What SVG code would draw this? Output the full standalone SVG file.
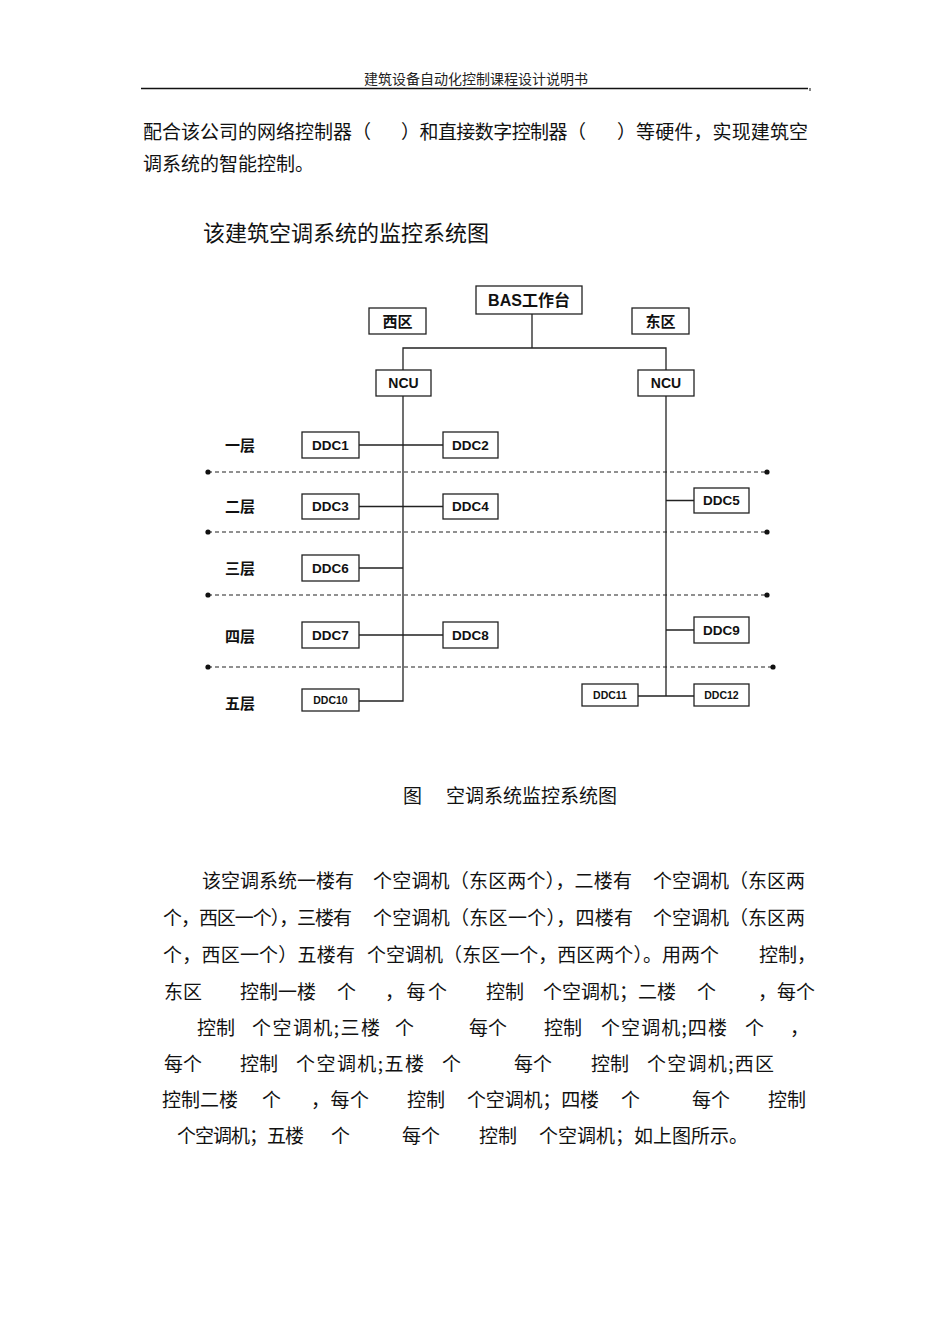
<svg xmlns="http://www.w3.org/2000/svg" width="950" height="1344" viewBox="0 0 950 1344">
<style>
.t{font-family:"Noto Sans CJK SC","Liberation Serif",sans-serif;font-size:19px;fill:#111;dominant-baseline:central}
.hd{font-family:"Noto Sans CJK SC",sans-serif;font-size:14px;fill:#222;dominant-baseline:central}
.ttl{font-family:"Noto Sans CJK SC",sans-serif;font-size:22px;fill:#111;dominant-baseline:central}
.box{fill:#fff;stroke:#222;stroke-width:1.3}
.lb{font-family:"Liberation Sans","Noto Sans CJK SC",sans-serif;font-weight:bold;fill:#111;text-anchor:middle;dominant-baseline:central}
.ln{fill:none;stroke:#222;stroke-width:1.3}
.dash{fill:none;stroke:#222;stroke-width:1.1;stroke-dasharray:4 3}
.dot{fill:#111}
</style>

<!-- page header -->
<text class="hd" x="476" y="78" text-anchor="middle">建筑设备自动化控制课程设计说明书</text>
<line x1="141" y1="88.5" x2="808" y2="88.5" stroke="#111" stroke-width="1.6"/>
<line x1="810" y1="88" x2="810" y2="91" stroke="#111" stroke-width="1"/>

<!-- intro paragraph -->
<text class="t" x="143" y="130">配合该公司的网络控制器（</text>
<text class="t" x="401" y="130" textLength="185" lengthAdjust="spacing">）和直接数字控制器（</text>
<text class="t" x="617" y="130" textLength="191" lengthAdjust="spacing">）等硬件，实现建筑空</text>
<text class="t" x="143" y="162">调系统的智能控制。</text>

<text class="ttl" x="203" y="231">该建筑空调系统的监控系统图</text>

<!-- connectors -->
<g id="connectors">
  <path class="ln" d="M532 314V348M403 370V348H666V370"/>
  <path class="ln" d="M403 396V701H359"/>
  <path class="ln" d="M359 445H443M359 506.5H443M359 568H403M359 635H443"/>
  <path class="ln" d="M666 396V696M666 500.5H694M666 630H694M638 696H694"/>
  <g id="floor-dividers">
    <line class="dash" x1="208" y1="472" x2="767" y2="472"/>
    <line class="dash" x1="208" y1="532" x2="767" y2="532"/>
    <line class="dash" x1="208" y1="595" x2="767" y2="595"/>
    <line class="dash" x1="208" y1="667" x2="773" y2="667"/>
    <circle class="dot" cx="208" cy="472" r="2.6"/><circle class="dot" cx="767" cy="472" r="2.6"/>
    <circle class="dot" cx="208" cy="532" r="2.6"/><circle class="dot" cx="767" cy="532" r="2.6"/>
    <circle class="dot" cx="208" cy="595" r="2.6"/><circle class="dot" cx="767" cy="595" r="2.6"/>
    <circle class="dot" cx="208" cy="667" r="2.6"/><circle class="dot" cx="773" cy="667" r="2.6"/>
  </g>
</g>

<!-- nodes -->
<g id="bas"><rect class="box" x="476" y="286" width="106" height="28"/><text class="lb" x="529" y="300" font-size="16">BAS工作台</text></g>
<g id="west-zone"><rect class="box" x="369" y="308" width="57" height="26"/><text class="lb" x="397.5" y="321" font-size="15">西区</text></g>
<g id="east-zone"><rect class="box" x="632" y="308" width="57" height="26"/><text class="lb" x="660.5" y="321" font-size="15">东区</text></g>
<g id="ncu-west"><rect class="box" x="376" y="370" width="55" height="26"/><text class="lb" x="403.5" y="383" font-size="14">NCU</text></g>
<g id="ncu-east"><rect class="box" x="638" y="370" width="56" height="26"/><text class="lb" x="666" y="383" font-size="14">NCU</text></g>

<g id="ddc1"><rect class="box" x="302" y="432" width="57" height="26"/><text class="lb" x="330.5" y="445" font-size="13.5">DDC1</text></g>
<g id="ddc2"><rect class="box" x="443" y="432" width="55" height="26"/><text class="lb" x="470.5" y="445" font-size="13.5">DDC2</text></g>
<g id="ddc3"><rect class="box" x="302" y="494" width="57" height="25"/><text class="lb" x="330.5" y="506.5" font-size="13.5">DDC3</text></g>
<g id="ddc4"><rect class="box" x="443" y="494" width="55" height="25"/><text class="lb" x="470.5" y="506.5" font-size="13.5">DDC4</text></g>
<g id="ddc5"><rect class="box" x="694" y="488" width="55" height="25"/><text class="lb" x="721.5" y="500.5" font-size="13.5">DDC5</text></g>
<g id="ddc6"><rect class="box" x="302" y="555" width="57" height="26"/><text class="lb" x="330.5" y="568" font-size="13.5">DDC6</text></g>
<g id="ddc7"><rect class="box" x="302" y="622" width="57" height="26"/><text class="lb" x="330.5" y="635" font-size="13.5">DDC7</text></g>
<g id="ddc8"><rect class="box" x="443" y="622" width="55" height="26"/><text class="lb" x="470.5" y="635" font-size="13.5">DDC8</text></g>
<g id="ddc9"><rect class="box" x="694" y="617" width="55" height="26"/><text class="lb" x="721.5" y="630" font-size="13.5">DDC9</text></g>
<g id="ddc10"><rect class="box" x="302" y="689" width="57" height="22"/><text class="lb" x="330.5" y="700" font-size="10.5">DDC10</text></g>
<g id="ddc11"><rect class="box" x="582" y="684" width="56" height="22"/><text class="lb" x="610" y="695" font-size="10.5">DDC11</text></g>
<g id="ddc12"><rect class="box" x="694" y="684" width="55" height="22"/><text class="lb" x="721.5" y="695" font-size="10.5">DDC12</text></g>

<g id="floors">
  <text class="lb" x="240" y="445" font-size="15">一层</text>
  <text class="lb" x="240" y="506" font-size="15">二层</text>
  <text class="lb" x="240" y="568" font-size="15">三层</text>
  <text class="lb" x="240" y="636" font-size="15">四层</text>
  <text class="lb" x="240" y="703" font-size="15">五层</text>
</g>

<!-- caption -->
<text class="t" x="403" y="794">图</text>
<text class="t" x="446" y="794">空调系统监控系统图</text>

<!-- description paragraph -->
<g id="para">
<text class="t" x="202" y="879">该空调系统一楼有</text>
<text class="t" x="373" y="879" textLength="259" lengthAdjust="spacing">个空调机（东区两个），二楼有</text>
<text class="t" x="653" y="879">个空调机（东区两</text>

<text class="t" x="163" y="916" textLength="189" lengthAdjust="spacing">个，西区一个），三楼有</text>
<text class="t" x="373" y="916" textLength="260" lengthAdjust="spacing">个空调机（东区一个），四楼有</text>
<text class="t" x="653" y="916">个空调机（东区两</text>

<text class="t" x="163" y="953" textLength="192" lengthAdjust="spacing">个，西区一个）五楼有</text>
<text class="t" x="367" y="953" textLength="352" lengthAdjust="spacing">个空调机（东区一个，西区两个）。用两个</text>
<text class="t" x="759" y="953">控制，</text>

<text class="t" x="164" y="990">东区</text>
<text class="t" x="240" y="990">控制一楼</text>
<text class="t" x="337" y="990">个</text>
<text class="t" x="385" y="990" textLength="62" lengthAdjust="spacing">，每个</text>
<text class="t" x="486" y="990">控制</text>
<text class="t" x="543" y="990">个空调机；二楼</text>
<text class="t" x="697" y="990">个</text>
<text class="t" x="758" y="990">，每个</text>

<text class="t" x="197" y="1026">控制</text>
<text class="t" x="252" y="1026" textLength="128" lengthAdjust="spacing">个空调机;三楼</text>
<text class="t" x="395" y="1026">个</text>
<text class="t" x="469" y="1026">每个</text>
<text class="t" x="544" y="1026">控制</text>
<text class="t" x="601" y="1026" textLength="126" lengthAdjust="spacing">个空调机;四楼</text>
<text class="t" x="745" y="1026">个</text>
<text class="t" x="790" y="1026">，</text>

<text class="t" x="164" y="1062">每个</text>
<text class="t" x="240" y="1062">控制</text>
<text class="t" x="296" y="1062" textLength="128" lengthAdjust="spacing">个空调机;五楼</text>
<text class="t" x="442" y="1062">个</text>
<text class="t" x="514" y="1062">每个</text>
<text class="t" x="591" y="1062">控制</text>
<text class="t" x="647" y="1062" textLength="127" lengthAdjust="spacing">个空调机;西区</text>

<text class="t" x="162" y="1098">控制二楼</text>
<text class="t" x="262" y="1098">个</text>
<text class="t" x="311" y="1098" textLength="58" lengthAdjust="spacing">，每个</text>
<text class="t" x="407" y="1098">控制</text>
<text class="t" x="467" y="1098" textLength="132" lengthAdjust="spacing">个空调机；四楼</text>
<text class="t" x="621" y="1098">个</text>
<text class="t" x="692" y="1098">每个</text>
<text class="t" x="768" y="1098">控制</text>

<text class="t" x="177" y="1134" textLength="127" lengthAdjust="spacing">个空调机；五楼</text>
<text class="t" x="331" y="1134">个</text>
<text class="t" x="402" y="1134">每个</text>
<text class="t" x="479" y="1134">控制</text>
<text class="t" x="539" y="1134">个空调机；如上图所示。</text>
</g>
</svg>
